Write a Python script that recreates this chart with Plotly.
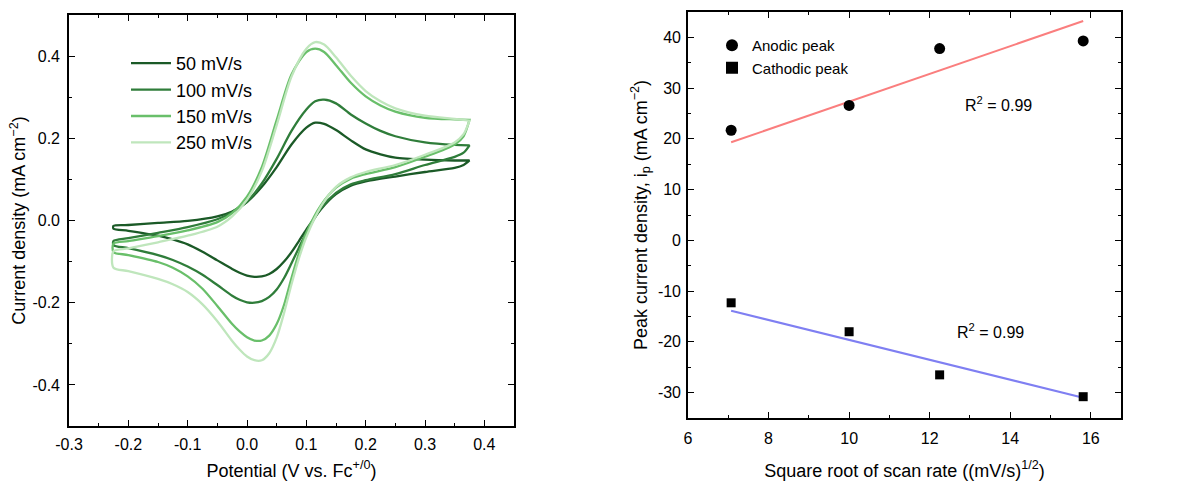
import numpy as np
import plotly.graph_objects as go

# ---------------- Data: cyclic voltammograms (left panel) ----------------
scan_labels = ["50 mV/s", "100 mV/s", "150 mV/s", "250 mV/s"]
cv_colors = ["#1b5a27", "#2f7d3a", "#69bf6a", "#bfe6bc"]

E_fwd = [-0.225, -0.2, -0.15, -0.1, -0.05, -0.025, 0.0, 0.025, 0.05, 0.075, 0.1,
         0.115, 0.13, 0.15, 0.175, 0.2, 0.225, 0.25, 0.3, 0.35, 0.375]
E_rev = [0.375, 0.365, 0.35, 0.3, 0.25, 0.2, 0.175, 0.15, 0.125, 0.1, 0.0875, 0.075, 0.0625,
         0.05, 0.0375, 0.025, 0.0125, 0.0, -0.0125, -0.025, -0.05, -0.075, -0.1, -0.125,
         -0.15, -0.2, -0.225]

I_fwd_50 = [-0.013, -0.011, -0.006, -0.001, 0.010, 0.022, 0.045, 0.082, 0.130, 0.185, 0.226,
            0.238, 0.235, 0.220, 0.195, 0.173, 0.161, 0.153, 0.148, 0.146, 0.146]
I_rev_50 = [0.146, 0.135, 0.128, 0.118, 0.107, 0.095, 0.085, 0.064, 0.028, -0.022, -0.050,
            -0.077, -0.100, -0.118, -0.130, -0.136, -0.137, -0.134, -0.127, -0.118, -0.097,
            -0.076, -0.058, -0.046, -0.037, -0.025, -0.020]

I_fwd_100 = [-0.050, -0.043, -0.030, -0.016, 0.003, 0.020, 0.046, 0.090, 0.150, 0.218, 0.270,
             0.290, 0.294, 0.285, 0.258, 0.236, 0.218, 0.205, 0.190, 0.184, 0.183]
I_rev_100 = [0.183, 0.165, 0.155, 0.135, 0.113, 0.098, 0.088, 0.067, 0.030, -0.030, -0.066,
             -0.104, -0.140, -0.168, -0.186, -0.196, -0.200, -0.199, -0.193, -0.183, -0.157,
             -0.132, -0.112, -0.096, -0.084, -0.067, -0.060]

I_fwd_150 = [-0.056, -0.050, -0.038, -0.024, -0.004, 0.018, 0.058, 0.130, 0.244, 0.355, 0.410,
             0.418, 0.410, 0.378, 0.335, 0.302, 0.280, 0.265, 0.250, 0.246, 0.245]
I_rev_150 = [0.245, 0.205, 0.185, 0.155, 0.130, 0.113, 0.102, 0.080, 0.038, -0.030, -0.080,
             -0.140, -0.205, -0.252, -0.280, -0.292, -0.292, -0.284, -0.270, -0.252, -0.208,
             -0.166, -0.136, -0.115, -0.101, -0.084, -0.077]

I_fwd_250 = [-0.075, -0.068, -0.053, -0.037, -0.015, 0.010, 0.050, 0.120, 0.232, 0.350, 0.418,
             0.434, 0.428, 0.397, 0.352, 0.315, 0.290, 0.273, 0.255, 0.247, 0.243]
I_rev_250 = [0.243, 0.210, 0.190, 0.160, 0.135, 0.118, 0.105, 0.082, 0.035, -0.040, -0.092,
             -0.155, -0.225, -0.285, -0.323, -0.340, -0.340, -0.331, -0.314, -0.293, -0.245,
             -0.204, -0.174, -0.155, -0.142, -0.123, -0.115]

I_fwd_all = [I_fwd_50, I_fwd_100, I_fwd_150, I_fwd_250]
I_rev_all = [I_rev_50, I_rev_100, I_rev_150, I_rev_250]

# ---------------- Data: peak currents (right panel) ----------------
scan_rates = [50, 100, 150, 250]            # mV/s
anodic_peak = [21.7, 26.6, 37.8, 39.3]       # mA cm^-2
cathodic_peak = [-12.3, -18.0, -26.5, -30.8]
r2_text = ["R<sup>2</sup> = 0.99", "R<sup>2</sup> = 0.99"]

# tick positions / labels
cv_xticks = [-0.3, -0.2, -0.1, 0.0, 0.1, 0.2, 0.3, 0.4]
cv_xticktext = ["-0.3", "-0.2", "-0.1", "0.0", "0.1", "0.2", "0.3", "0.4"]
cv_xminor = [-0.25, -0.15, -0.05, 0.05, 0.15, 0.25, 0.35]
cv_yticks = [-0.4, -0.2, 0.0, 0.2, 0.4]
cv_yticktext = ["-0.4", "-0.2", "0.0", "0.2", "0.4"]
cv_yminor = [-0.5, -0.3, -0.1, 0.1, 0.3, 0.5]
pk_xticks = [6, 8, 10, 12, 14, 16]
pk_xticktext = ["6", "8", "10", "12", "14", "16"]
pk_xminor = [7, 9, 11, 13, 15]
pk_yticks = [-30, -20, -10, 0, 10, 20, 30, 40]
pk_yticktext = ["-30", "-20", "-10", "0", "10", "20", "30", "40"]
pk_yminor = [-35, -25, -15, -5, 5, 15, 25, 35, 45]

FONT = "Arial, Liberation Sans, sans-serif"
W, H = 1195, 485

fig = go.Figure()

for lab, col, i_f, i_r in zip(scan_labels, cv_colors, I_fwd_all, I_rev_all):
    xs = E_fwd + E_rev + [E_fwd[0]]
    ys = i_f + i_r + [i_f[0]]
    fig.add_trace(go.Scatter(
        x=xs, y=ys, mode="lines", name=lab,
        line=dict(color=col, width=2.3, shape="spline", smoothing=0.8),
        xaxis="x", yaxis="y", legend="legend"))

sq = np.sqrt(np.array(scan_rates, dtype=float))
an = np.array(anodic_peak)
ca = np.array(cathodic_peak)
# linear fits through the origin
k_an = float(np.sum(sq * an) / np.sum(sq * sq))
k_ca = float(np.sum(sq * ca) / np.sum(sq * sq))
xfit = np.array([sq.min(), sq.max()])

fig.add_trace(go.Scatter(x=xfit, y=k_an * xfit, mode="lines", showlegend=False,
                         line=dict(color="#fa7e7e", width=2), xaxis="x2", yaxis="y2"))
fig.add_trace(go.Scatter(x=xfit, y=k_ca * xfit, mode="lines", showlegend=False,
                         line=dict(color="#7f7ff2", width=2), xaxis="x2", yaxis="y2"))
fig.add_trace(go.Scatter(x=sq, y=an, mode="markers", name="Anodic peak",
                         marker=dict(symbol="circle", size=11, color="black"),
                         xaxis="x2", yaxis="y2", legend="legend2"))
fig.add_trace(go.Scatter(x=sq, y=ca, mode="markers", name="Cathodic peak",
                         marker=dict(symbol="square", size=9, color="black"),
                         xaxis="x2", yaxis="y2", legend="legend2"))


def axis(domain, rng, tv, tt, minor_vals, title, anchor, lab_off, standoff):
    return dict(
        domain=domain, range=rng, anchor=anchor, automargin=False,
        tickmode="array", tickvals=tv, ticktext=tt,
        showline=True, linecolor="black", linewidth=1.6, mirror="allticks",
        ticks="inside", ticklen=6, tickwidth=1.3, tickcolor="black",
        ticklabelstandoff=lab_off,
        minor=dict(tickmode="array", tickvals=minor_vals, ticks="inside",
                   ticklen=3.5, tickwidth=1.3, tickcolor="black", showgrid=False),
        showgrid=False, zeroline=False,
        tickfont=dict(family=FONT, size=16, color="black"),
        title=dict(text=title, standoff=standoff,
                   font=dict(family=FONT, size=18, color="black")),
    )


L = (69 / W, 514 / W)
LY = (1 - 426 / H, 1 - 15 / H)
R = (688 / W, 1121 / W)
RY = (1 - 418 / H, 1 - 12 / H)

fig.update_layout(
    width=W, height=H,
    margin=dict(l=0, r=0, t=0, b=0),
    paper_bgcolor="white", plot_bgcolor="white",
    font=dict(family=FONT, color="black"),
    xaxis=axis(L, [-0.3, 0.45], cv_xticks, cv_xticktext, cv_xminor,
               "Potential (V vs. Fc<sup>+/0</sup>)", "y", 3, 12),
    yaxis=axis(LY, [-0.5, 0.5], cv_yticks, cv_yticktext, cv_yminor,
               "Current density (mA cm<sup>−2</sup>)", "x", 4, 2),
    xaxis2=axis(R, [6, 16.75], pk_xticks, pk_xticktext, pk_xminor,
                "Square root of scan rate ((mV/s)<sup>1/2</sup>)", "y2", 5, 18),
    yaxis2=axis(RY, [-35, 45], pk_yticks, pk_yticktext, pk_yminor,
                "Peak current density, i<sub>p</sub> (mA cm<sup>−2</sup>)", "x2", 2, 6),
    legend=dict(x=126 / W, y=1 - 45 / H, xanchor="left", yanchor="top",
                bgcolor="rgba(0,0,0,0)", font=dict(family=FONT, size=18, color="black"),
                itemwidth=40, tracegroupgap=0),
    legend2=dict(x=712 / W, y=1 - 29 / H, xanchor="left", yanchor="top",
                 bgcolor="rgba(0,0,0,0)", font=dict(family=FONT, size=15, color="black"),
                 itemsizing="constant"),
    annotations=[
        dict(x=13.7, y=26.8, xref="x2", yref="y2", text=r2_text[0], showarrow=False,
             font=dict(family=FONT, size=16, color="black")),
        dict(x=13.5, y=-17.8, xref="x2", yref="y2", text=r2_text[1], showarrow=False,
             font=dict(family=FONT, size=16, color="black")),
    ],
)

fig.write_html("out.html")
